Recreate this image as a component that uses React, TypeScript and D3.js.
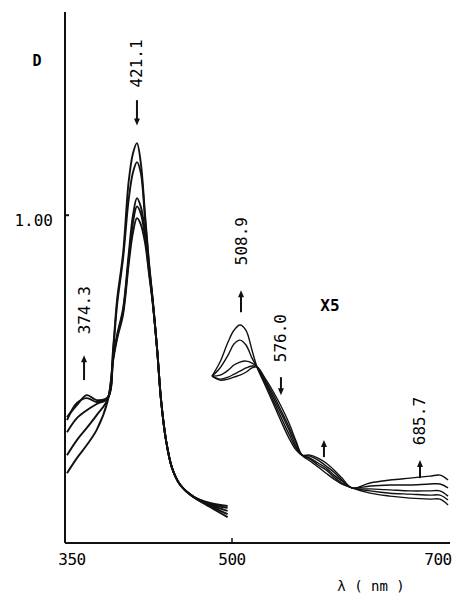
import React from "react";
import * as d3 from "d3";

// Soret band (full scale), five spectra, A = final / highest peak
const soretWavelengths = [350, 359, 368, 377, 387, 392, 395.5, 401, 406, 410, 413.6, 417, 421, 424.5, 428, 432, 435.5, 440, 445.5, 453, 464, 480, 496];
const soretA = [0.384, 0.421, 0.451, 0.436, 0.445, 0.598, 0.741, 0.884, 1.101, 1.189, 1.22, 1.162, 1.0, 0.857, 0.741, 0.588, 0.436, 0.314, 0.229, 0.177, 0.143, 0.122, 0.113];
const soretB = [0.375, 0.427, 0.442, 0.43, 0.442, 0.588, 0.726, 0.869, 1.046, 1.131, 1.162, 1.131, 0.985, 0.851, 0.738, 0.588, 0.436, 0.314, 0.229, 0.177, 0.143, 0.119, 0.107];
const soretC = [0.338, 0.381, 0.405, 0.424, 0.442, 0.564, 0.634, 0.716, 0.878, 1.0, 1.052, 1.027, 0.948, 0.838, 0.735, 0.588, 0.436, 0.314, 0.229, 0.177, 0.143, 0.116, 0.098];
const soretD = [0.268, 0.314, 0.351, 0.39, 0.439, 0.567, 0.628, 0.707, 0.863, 0.979, 1.027, 1.006, 0.933, 0.832, 0.732, 0.588, 0.436, 0.314, 0.229, 0.177, 0.143, 0.113, 0.088];
const soretE = [0.213, 0.259, 0.299, 0.345, 0.433, 0.558, 0.622, 0.698, 0.848, 0.948, 0.991, 0.973, 0.915, 0.823, 0.729, 0.588, 0.436, 0.314, 0.229, 0.177, 0.143, 0.11, 0.079];

// visible region, drawn x5
const visibleWavelengths = [481.8, 489.1, 496.4, 501.8, 507.3, 512.7, 518.2, 522.7, 530, 537.3, 544.5, 551.8, 558.2, 563.6, 570.9, 578.2, 585.5, 592.7, 600, 609.1, 625.5, 643.6, 661.8, 680, 689.1, 696.4];
const visibleA = [0.509, 0.552, 0.613, 0.649, 0.665, 0.649, 0.588, 0.537, 0.482, 0.427, 0.372, 0.32, 0.284, 0.268, 0.268, 0.259, 0.244, 0.223, 0.198, 0.168, 0.183, 0.192, 0.198, 0.204, 0.207, 0.192];
const visibleB = [0.509, 0.534, 0.573, 0.607, 0.619, 0.604, 0.564, 0.537, 0.488, 0.436, 0.384, 0.332, 0.29, 0.268, 0.265, 0.253, 0.235, 0.216, 0.192, 0.168, 0.174, 0.177, 0.177, 0.18, 0.18, 0.168];
const visibleC = [0.509, 0.512, 0.527, 0.543, 0.552, 0.555, 0.549, 0.537, 0.494, 0.445, 0.396, 0.345, 0.296, 0.268, 0.259, 0.244, 0.229, 0.207, 0.189, 0.168, 0.165, 0.162, 0.159, 0.159, 0.159, 0.143];
const visibleD = [0.509, 0.5, 0.506, 0.515, 0.524, 0.534, 0.54, 0.537, 0.497, 0.454, 0.405, 0.354, 0.305, 0.268, 0.256, 0.238, 0.223, 0.201, 0.183, 0.168, 0.159, 0.152, 0.149, 0.146, 0.146, 0.131];
const visibleE = [0.509, 0.497, 0.5, 0.506, 0.512, 0.521, 0.534, 0.537, 0.503, 0.463, 0.418, 0.366, 0.311, 0.268, 0.25, 0.232, 0.213, 0.195, 0.18, 0.168, 0.152, 0.143, 0.137, 0.134, 0.134, 0.116];

const xTicks = [350, 500, 700];
const yTicks = [1.0];

// peak annotations: wavelength position, arrow tail/tip (D), label centre (D)
const peakLabels = [
  { text: "421.1", at: 413.6, tail: 1.351, tip: 1.274, label: 1.463 },
  { text: "374.3", at: 365.5, tail: 0.497, tip: 0.573, label: 0.71 },
  { text: "508.9", at: 508.2, tail: 0.704, tip: 0.771, label: 0.921 },
  { text: "576.0", at: 544.5, tail: 0.506, tip: 0.451, label: 0.625 },
  { text: "", at: 583.6, tail: 0.262, tip: 0.314, label: 0 },
  { text: "685.7", at: 670.9, tail: 0.198, tip: 0.253, label: 0.372 },
];

const W = 458;
const H = 594;
const ink = "#111";
const font = "'DejaVu Sans Mono', monospace";

const x = d3.scaleLinear().domain([350, 700]).range([67, 452]);
const y = d3.scaleLinear().domain([0, 1.62]).range([543, 12]);

const line = (ws: number[]) =>
  d3
    .line<number>()
    .x((_, i) => x(ws[i]))
    .y((d) => y(d))
    .curve(d3.curveCatmullRom.alpha(0.5));

export default function App() {
  const soretLine = line(soretWavelengths);
  const visLine = line(visibleWavelengths);
  const soret = [soretA, soretB, soretC, soretD, soretE];
  const visible = [visibleA, visibleB, visibleC, visibleD, visibleE];
  const x0 = x(350) - 2;
  const y0 = y(0);

  return (
    <svg
      width={W}
      height={H}
      style={{ position: "absolute", left: 0, top: 0, background: "#fff" }}
    >
      {/* axes */}
      <line x1={x0} y1={y(1.62)} x2={x0} y2={y0} stroke={ink} strokeWidth={2} />
      <line x1={x0} y1={y0} x2={x(700) - 2} y2={y0} stroke={ink} strokeWidth={2} />
      {yTicks.map((t) => (
        <g key={t}>
          <line x1={x0} x2={x0 + 4} y1={y(t)} y2={y(t)} stroke={ink} strokeWidth={2} />
          <text x={x0 - 12} y={y(t) + 5} textAnchor="end" dominantBaseline="central" fontFamily={font} fontSize={16}>
            {t.toFixed(2)}
          </text>
        </g>
      ))}
      {xTicks.map((t, i) => (
        <g key={t}>
          {i === 1 && <line x1={x(t)} x2={x(t)} y1={y0} y2={y0 - 5} stroke={ink} strokeWidth={1.5} />}
          <text
            x={x(t) + (i === 0 ? 5 : i === 2 ? -14 : 0)}
            y={y0 + 22}
            textAnchor="middle"
            fontFamily={font}
            fontSize={16}
            letterSpacing={-0.5}
          >
            {t}
          </text>
        </g>
      ))}
      <text x={37} y={61} textAnchor="middle" dominantBaseline="central" fontFamily={font} fontSize={15} fontWeight="bold">
        D
      </text>
      <text x={371} y={586} textAnchor="middle" dominantBaseline="central" fontFamily={font} fontSize={14}>
        λ ( nm )
      </text>
      <text x={330} y={305} textAnchor="middle" dominantBaseline="central" fontFamily={font} fontSize={16} fontWeight="bold">
        X5
      </text>

      {/* spectra */}
      {soret.map((s, i) => (
        <path key={"s" + i} d={soretLine(s) || ""} fill="none" stroke={ink} strokeWidth={1.9} strokeLinejoin="round" />
      ))}
      {visible.map((s, i) => (
        <path key={"v" + i} d={visLine(s) || ""} fill="none" stroke={ink} strokeWidth={1.4} strokeLinejoin="round" />
      ))}

      {/* peak annotations */}
      {peakLabels.map((p, i) => {
        const px = x(p.at);
        const t0 = y(p.tail);
        const t1 = y(p.tip);
        const dir = t1 > t0 ? 1 : -1;
        return (
          <g key={"p" + i}>
            <line x1={px} x2={px} y1={t0} y2={t1 - dir * 6} stroke={ink} strokeWidth={2} />
            <path
              d={`M${px - 3},${t1 - dir * 7} L${px + 3},${t1 - dir * 7} L${px},${t1} Z`}
              fill={ink}
            />
            {p.text && (
              <text
                transform={`translate(${px},${y(p.label)}) rotate(-90)`}
                textAnchor="middle"
                dominantBaseline="central"
                fontFamily={font}
                fontSize={16}
              >
                {p.text}
              </text>
            )}
          </g>
        );
      })}
    </svg>
  );
}
